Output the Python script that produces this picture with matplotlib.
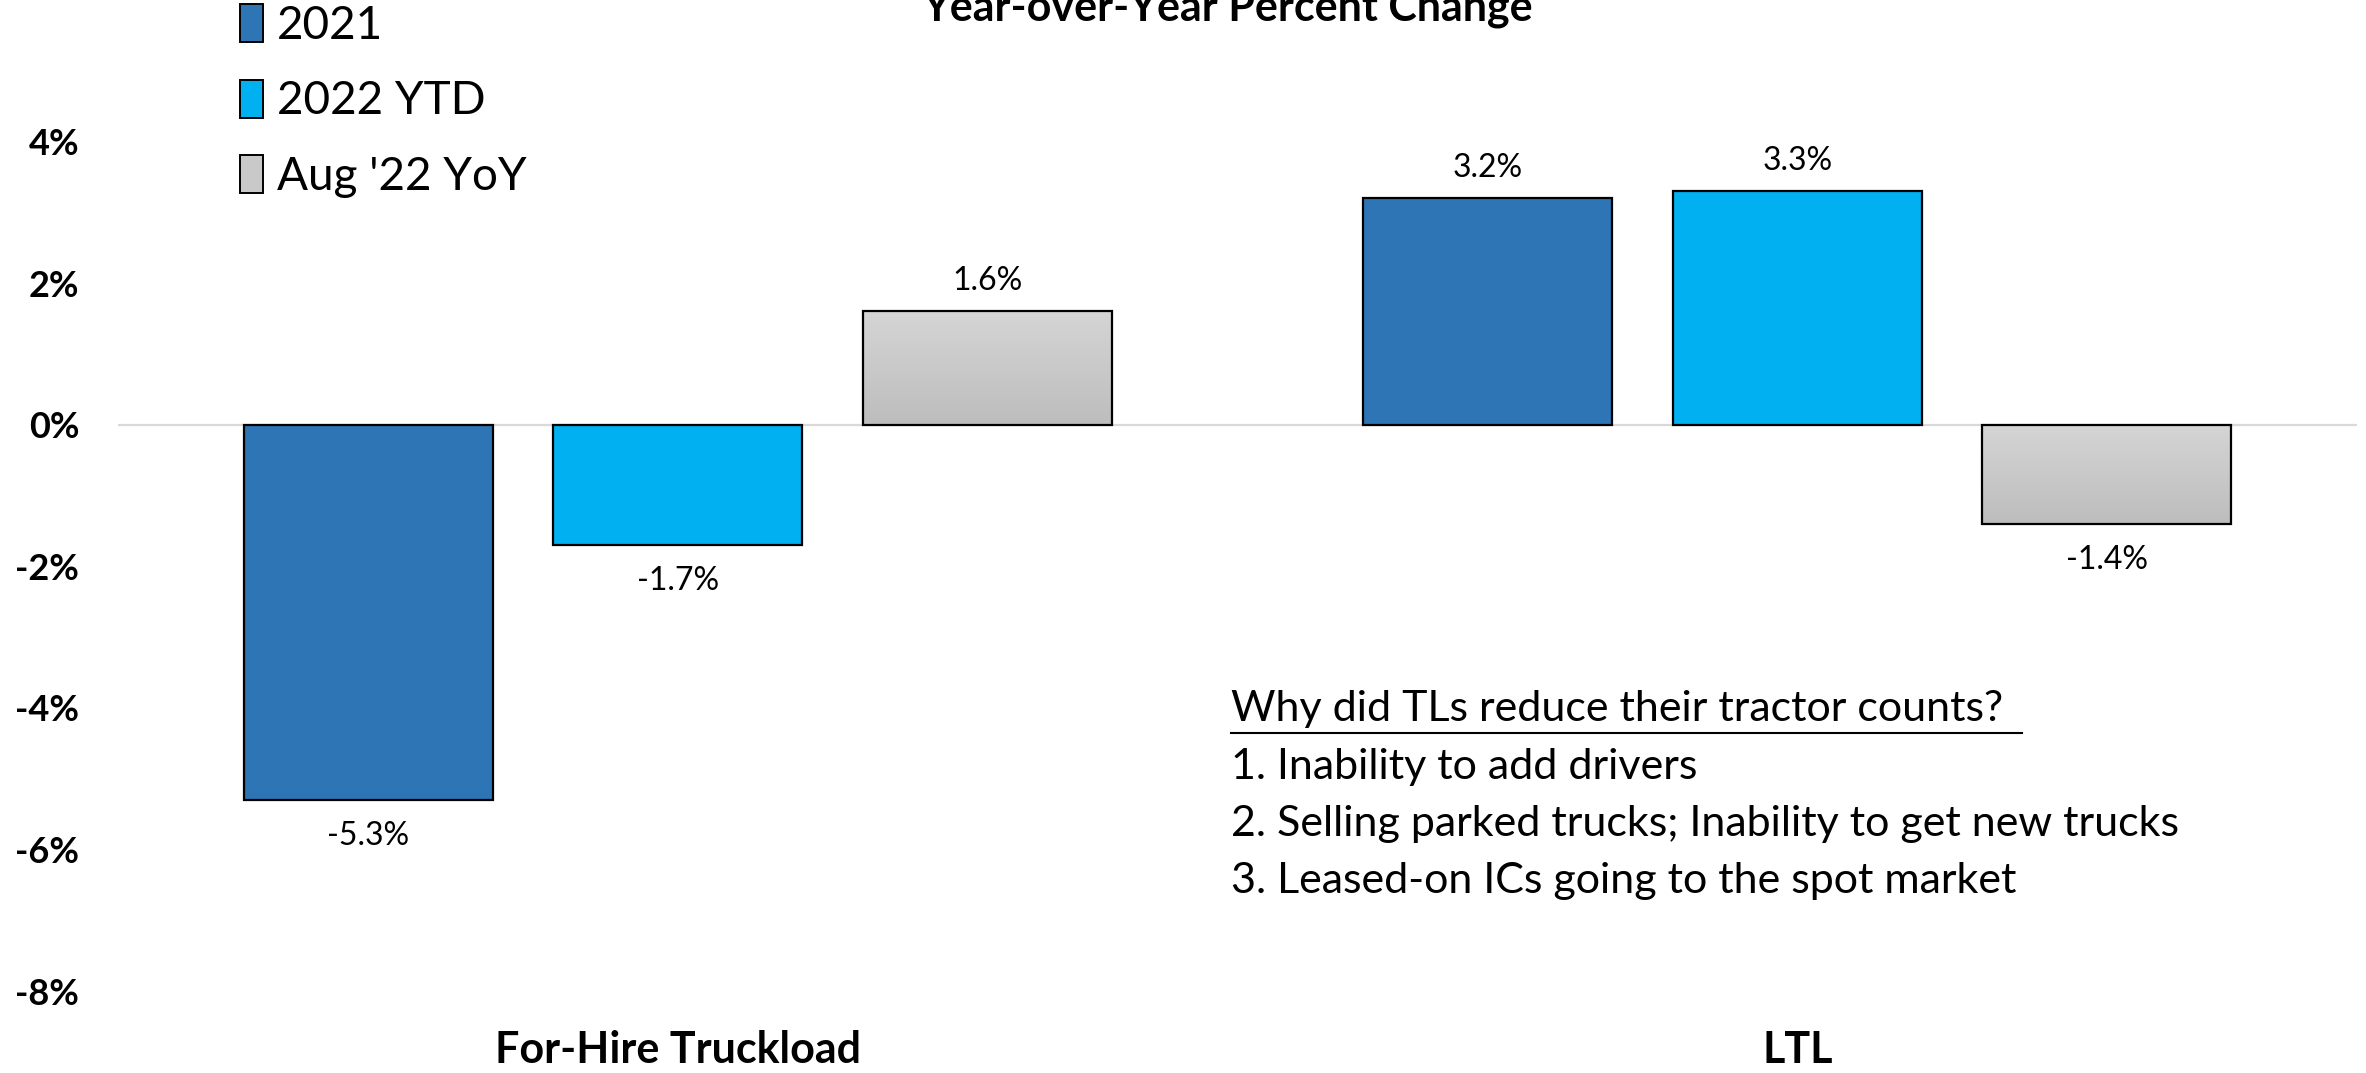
import numpy as np
import matplotlib.pyplot as plt
from matplotlib.patches import Patch
from matplotlib.colors import LinearSegmentedColormap

# Data
categories = ['For-Hire Truckload', 'LTL']
series = ['2021', '2022 YTD', "Aug '22 YoY"]
vals_2021 = [-5.3, 3.2]
vals_2022ytd = [-1.7, 3.3]
vals_aug22 = [1.6, -1.4]
yticks = [-8, -6, -4, -2, 0, 2, 4]
notes_title = 'Why did TLs reduce their tractor counts?'
notes = ['1. Inability to add drivers',
         '2. Selling parked trucks; Inability to get new trucks',
         '3. Leased-on ICs going to the spot market']

plt.rcParams['font.family'] = ['Lato', 'DejaVu Sans']

fig = plt.figure(figsize=(23.66, 10.73), dpi=100)
ax = fig.add_axes([0.0499, 0.0764, 0.9463, 0.9236])

colors = ['#2E75B6', '#00B0F0', '#C9C9C9']
x = np.arange(len(categories))
width = 0.2224
offset = 0.2763

ax.axhline(0, color='#D9D9D9', lw=1.6, zorder=1)

gray_cmap = LinearSegmentedColormap.from_list('g', ['#BDBDBD', '#D5D5D5'])

all_vals = [vals_2021, vals_2022ytd, vals_aug22]
for i, (vals, c) in enumerate(zip(all_vals, colors)):
    bars = ax.bar(x + (i - 1) * offset, vals, width, color=c, edgecolor='black',
                  linewidth=1.6, zorder=2)
    if i == 2:
        # gray bars have a light vertical gradient
        grad = np.linspace(0, 1, 100).reshape(-1, 1)
        for b in bars:
            x0, y0 = b.get_x(), b.get_y()
            w, h = b.get_width(), b.get_height()
            ylo, yhi = min(y0, y0 + h), max(y0, y0 + h)
            im = ax.imshow(grad, cmap=gray_cmap, extent=[x0, x0 + w, yhi, ylo],
                           aspect='auto', zorder=2.5)
            im.set_clip_path(b)
            b.set_facecolor('none')
            b.set_zorder(3)
    for b, v in zip(bars, vals):
        off = 22 if v > 0 else -26
        ax.annotate(f'{v:.1f}%', (b.get_x() + b.get_width() / 2, v),
                    xytext=(0, off), textcoords='offset points',
                    ha='center', va='center', fontsize=23)

ax.set_xlim(-0.5, 1.5)
ax.set_ylim(-8, 6)
ax.set_yticks(yticks)
ax.set_yticklabels([f'{t}%' for t in yticks], fontsize=26, fontweight='bold')
ax.set_xticks(x)
ax.set_xticklabels(categories, fontsize=31, fontweight='bold')
ax.tick_params(axis='y', length=0, pad=28)
ax.tick_params(axis='x', length=0, pad=28)
for s in ax.spines.values():
    s.set_visible(False)

fig.text(0.519, 0.993, 'Year-over-Year Percent Change', ha='center', va='center',
         fontsize=31, fontweight='bold')

handles = [Patch(facecolor=c, edgecolor='black', linewidth=1.4) for c in colors]
fig.legend(handles, series, loc='upper left', bbox_to_anchor=(0.084, 1.035),
           frameon=False, fontsize=33, handlelength=0.5, handleheight=0.9,
           handletextpad=0.3, labelspacing=0.72)

tx = 1231 / 2366
fig.text(tx, 1 - 709 / 1073, notes_title, fontsize=31, va='center', ha='left')
fig.add_artist(plt.Line2D([tx, 2022 / 2366], [1 - 733 / 1073] * 2, color='black', lw=1.5))
for k, line in enumerate(notes):
    fig.text(tx, 1 - (767 + 57 * k) / 1073, line, fontsize=31, va='center', ha='left')

fig.savefig('out.png', dpi=100)
